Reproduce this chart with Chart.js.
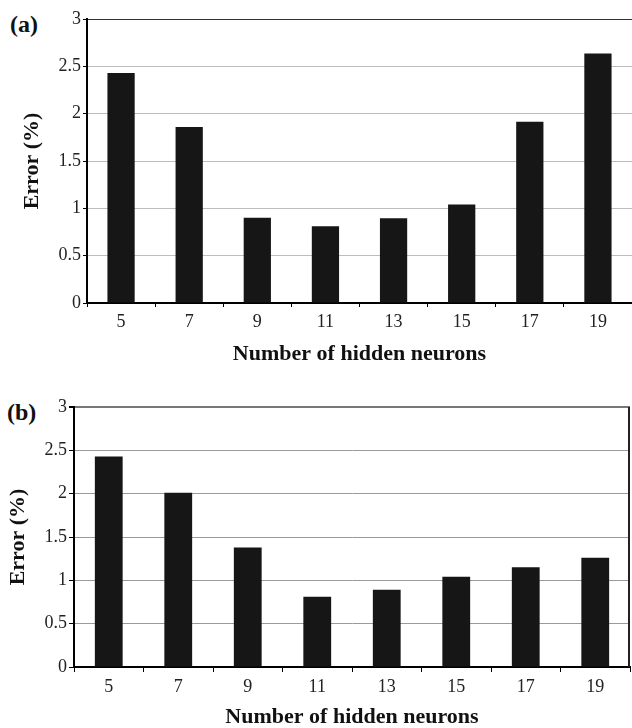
<!DOCTYPE html>
<html>
<head>
<meta charset="utf-8">
<script src="https://cdn.jsdelivr.net/npm/chart.js@4"></script>
<style>
  html, body { margin: 0; padding: 0; background: #fff; overflow: hidden; }
  body { width: 632px; height: 728px; position: relative; font-family: 'Liberation Serif', 'Times New Roman', serif; }
  canvas { position: absolute; left: 0; }
  .tag { position: absolute; font-weight: bold; font-size: 24px; color: #111; line-height: 1; }
</style>
</head>
<body>
<div class="tag" style="left:10px; top:12px;">(a)</div>
<div class="tag" style="left:7px; top:400px;">(b)</div>
<canvas id="chartA" width="632" height="365" style="top:0"></canvas>
<canvas id="chartB" width="632" height="363" style="top:365px"></canvas>
<script>
const neurons = ['5', '7', '9', '11', '13', '15', '17', '19'];
const errorA = [2.43, 1.86, 0.90, 0.81, 0.895, 1.04, 1.915, 2.635];
const errorB = [2.43, 2.01, 1.38, 0.81, 0.89, 1.04, 1.15, 1.26];

const serif = "'Liberation Serif', 'Times New Roman', serif";

// right-hand frame line (only panel b has one)
const framePlugin = {
    id: 'frame',
    afterDraw(chart, args, opts) {
        if (!opts.right) return;
        const { ctx, chartArea } = chart;
        ctx.save();
        ctx.strokeStyle = '#222';
        ctx.lineWidth = 2;
        ctx.beginPath();
        ctx.moveTo(chartArea.right - 1, chartArea.top);
        ctx.lineTo(chartArea.right - 1, chartArea.bottom);
        ctx.stroke();
        ctx.restore();
    }
};

function makeChart(id, values, cfg) {
    return new Chart(document.getElementById(id), {
        type: 'bar',
        data: {
            labels: neurons,
            datasets: [{
                data: values,
                backgroundColor: '#161616',
                categoryPercentage: 1.0,
                barPercentage: 0.4
            }]
        },
        plugins: [framePlugin],
        options: {
            responsive: false,
            animation: false,
            layout: { padding: { top: cfg.top, left: 0, right: cfg.right, bottom: 0 } },
            plugins: {
                legend: { display: false },
                tooltip: { enabled: false },
                frame: { right: cfg.frameRight }
            },
            scales: {
                x: {
                    afterFit: (s) => { s.height = cfg.xHeight; },
                    grid: {
                        drawOnChartArea: false,
                        tickLength: cfg.tickLen,
                        tickColor: '#000',
                        tickWidth: 1
                    },
                    border: { color: '#000', width: 2 },
                    ticks: {
                        color: '#222',
                        padding: cfg.xPad,
                        font: { family: serif, size: 18 }
                    },
                    title: {
                        display: true,
                        text: 'Number of hidden neurons',
                        color: '#111',
                        padding: { top: 0, bottom: 0 },
                        font: { family: serif, size: 22, weight: 'bold', lineHeight: 1 }
                    }
                },
                y: {
                    min: 0,
                    max: 3,
                    afterFit: (s) => { s.width = cfg.yWidth; },
                    grid: {
                        color: (c) => c.tick && c.tick.value === 3 ? cfg.topColor : cfg.gridColor,
                        lineWidth: (c) => c.tick && c.tick.value === 3 ? cfg.topWidth : 1,
                        tickLength: cfg.tickLen,
                        tickColor: '#000'
                    },
                    border: { color: '#000', width: 2 },
                    ticks: {
                        stepSize: 0.5,
                        color: '#222',
                        padding: 2,
                        font: { family: serif, size: 18 },
                        callback: (v) => String(v)
                    },
                    title: {
                        display: true,
                        text: 'Error (%)',
                        color: '#111',
                        padding: { top: cfg.yTitlePad, bottom: 0 },
                        font: { family: serif, size: 22, weight: 'bold', lineHeight: 1 }
                    }
                }
            }
        }
    });
}

makeChart('chartA', errorA, {
    top: 19, right: 0, xHeight: 62, yWidth: 87, tickLen: 4, xPad: 4,
    yTitlePad: 21, gridColor: '#bdbdbd', topColor: '#333', topWidth: 1, frameRight: false
});

makeChart('chartB', errorB, {
    top: 42, right: 2, xHeight: 61, yWidth: 74, tickLen: 5, xPad: 4,
    yTitlePad: 7, gridColor: '#9a9a9a', topColor: '#777', topWidth: 2, frameRight: true
});
</script>
</body>
</html>
